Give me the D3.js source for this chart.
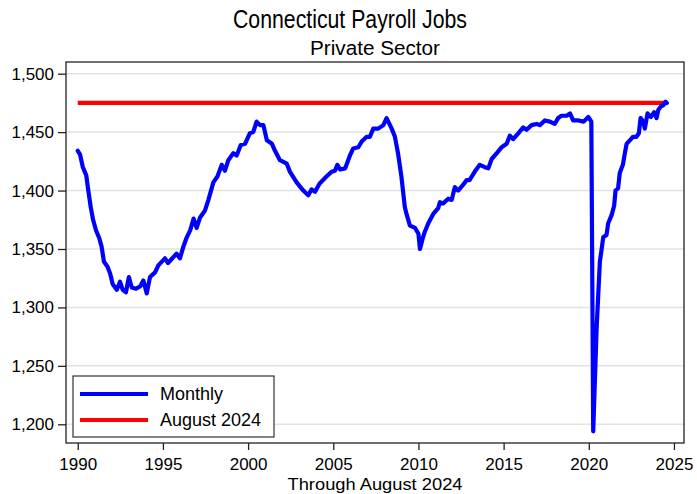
<!DOCTYPE html>
<html>
<head>
<meta charset="utf-8">
<script src="https://cdn.jsdelivr.net/npm/d3@7"></script>
<style>
  body { margin: 0; background: #fff; }
  svg text { font-family: "Liberation Sans", Arial, sans-serif; fill: #000; }
</style>
</head>
<body>
<div id="chart"></div>
<script>
// Connecticut private sector payroll jobs (thousands)
const years = [
  1990.00, 1990.13, 1990.30, 1990.50, 1990.60, 1990.76, 1990.90, 1991.07, 1991.27, 1991.40,
  1991.54, 1991.74, 1991.90, 1992.05, 1992.29, 1992.48, 1992.64, 1992.83, 1993.00, 1993.17,
  1993.42, 1993.66, 1993.85, 1994.05, 1994.24, 1994.54, 1994.73, 1995.12, 1995.30, 1995.80,
  1996.00, 1996.20, 1996.40, 1996.60, 1996.80, 1996.98, 1997.18, 1997.47, 1997.67, 1997.96,
  1998.20, 1998.45, 1998.64, 1998.84, 1999.13, 1999.33, 1999.57, 1999.82, 2000.10, 2000.30,
  2000.50, 2000.70, 2000.90, 2001.10, 2001.40, 2001.58, 2001.87, 2002.27, 2002.46, 2002.85,
  2003.24, 2003.53, 2003.73, 2003.93, 2004.20, 2004.60, 2004.90, 2005.10, 2005.24, 2005.40,
  2005.70, 2005.98, 2006.17, 2006.47, 2006.67, 2006.96, 2007.15, 2007.35, 2007.64, 2007.94,
  2008.13, 2008.43, 2008.62, 2008.80, 2009.00, 2009.20, 2009.30, 2009.50, 2009.80, 2010.00,
  2010.09, 2010.25, 2010.38, 2010.58, 2010.87, 2011.16, 2011.26, 2011.45, 2011.75, 2011.95,
  2012.14, 2012.33, 2012.63, 2012.83, 2013.00, 2013.30, 2013.60, 2013.90, 2014.10, 2014.30,
  2014.60, 2014.88, 2015.18, 2015.37, 2015.56, 2015.86, 2016.15, 2016.35, 2016.64, 2016.94,
  2017.13, 2017.42, 2017.72, 2018.00, 2018.20, 2018.40, 2018.70, 2018.90, 2019.08, 2019.40,
  2019.70, 2019.97, 2020.15, 2020.26, 2020.46, 2020.65, 2020.85, 2021.04, 2021.14, 2021.34,
  2021.49, 2021.57, 2021.72, 2021.82, 2022.00, 2022.12, 2022.22, 2022.41, 2022.60, 2022.80,
  2022.94, 2023.04, 2023.19, 2023.29, 2023.45, 2023.65, 2023.84, 2023.98, 2024.08, 2024.23,
  2024.37, 2024.51, 2024.58
];
const jobs = [
  1434, 1431, 1420, 1413, 1402, 1386, 1375, 1366, 1359, 1352,
  1339, 1335, 1329, 1320, 1315, 1322, 1315, 1313, 1326, 1317,
  1316, 1318, 1323, 1312, 1326, 1330, 1336, 1342, 1338, 1346,
  1342, 1352, 1360, 1366, 1376, 1368, 1377, 1383, 1392, 1407,
  1412, 1422, 1417, 1426, 1432, 1430, 1439, 1440, 1449, 1450,
  1459, 1456, 1456, 1443, 1440, 1434, 1426, 1423, 1416, 1407,
  1400, 1396, 1401, 1399, 1406, 1412, 1416, 1417, 1422, 1418,
  1419, 1430, 1436, 1437, 1442, 1446, 1446, 1453, 1453, 1456,
  1462, 1453, 1446, 1432, 1412, 1386, 1380, 1370, 1368, 1363,
  1350, 1359, 1365, 1372, 1380, 1385, 1390, 1389, 1393, 1392,
  1403, 1400, 1405, 1409, 1409, 1416, 1422, 1420, 1419, 1427,
  1432, 1437, 1440, 1447, 1444, 1449, 1454, 1452, 1456, 1457,
  1456, 1460, 1459, 1457, 1462, 1464, 1464, 1466, 1460, 1460,
  1459, 1463, 1459, 1194, 1282, 1339, 1360, 1362, 1372, 1379,
  1387, 1400, 1402, 1415, 1422, 1432, 1440, 1443, 1446, 1446,
  1449, 1462, 1459, 1453, 1466, 1463, 1467, 1462, 1469, 1472,
  1473, 1476, 1475
];
const latestValue = 1475;            // August 2024 reference level
const refSpan = [1990.0, 2024.58];
const xTicks = [1990, 1995, 2000, 2005, 2010, 2015, 2020, 2025];
const yTicks = [1200, 1250, 1300, 1350, 1400, 1450, 1500];
const legendLabels = ["Monthly", "August 2024"];
const legendColors = ["#0000ff", "#ff0000"];

const W = 697, H = 494;
const margin = { top: 62, right: 13, bottom: 51, left: 66 };
const width = W - margin.left - margin.right;
const height = H - margin.top - margin.bottom;

const svg = d3.select("#chart").append("svg")
  .attr("width", W)
  .attr("height", H);

const g = svg.append("g")
  .attr("transform", `translate(${margin.left},${margin.top})`);

const x = d3.scaleLinear().domain([1989.31, 2025.59]).range([0, width]);
const y = d3.scaleLinear().domain([1184, 1510]).range([height, 0]);

// gridlines
g.selectAll("line.grid")
  .data(yTicks)
  .enter().append("line")
  .attr("class", "grid")
  .attr("x1", 0).attr("x2", width)
  .attr("y1", d => y(d)).attr("y2", d => y(d))
  .style("stroke", "#e3e3e3")
  .style("stroke-width", 1.5);

// axes
const yAxis = g.append("g")
  .call(d3.axisLeft(y).tickValues(yTicks).tickSize(8).tickPadding(4).tickFormat(d3.format(",")));
const xAxis = g.append("g")
  .attr("transform", `translate(0,${height})`)
  .call(d3.axisBottom(x).tickValues(xTicks).tickSize(7).tickPadding(8).tickFormat(d3.format("d")));

[yAxis, xAxis].forEach(a => {
  a.select(".domain").remove();
  a.selectAll(".tick line").style("stroke", "#222").style("stroke-width", 1.3);
  a.selectAll(".tick text").style("font-size", "17px").style("font-family", "Liberation Sans, Arial, sans-serif").style("fill", "#000");
});

// plot frame
g.append("rect")
  .attr("x", 0).attr("y", 0)
  .attr("width", width).attr("height", height)
  .style("fill", "none")
  .style("stroke", "#222")
  .style("stroke-width", 1.3);

// reference line: August 2024 level
g.append("line")
  .attr("x1", x(refSpan[0])).attr("x2", x(refSpan[1]))
  .attr("y1", y(latestValue)).attr("y2", y(latestValue))
  .style("stroke", legendColors[1])
  .style("stroke-width", 4.2);

// monthly series
const series = years.map((t, i) => ({ t, v: jobs[i] }));
g.append("path")
  .datum(series)
  .attr("d", d3.line().x(d => x(d.t)).y(d => y(d.v)))
  .style("fill", "none")
  .style("stroke", legendColors[0])
  .style("stroke-width", 4.2)
  .style("stroke-linejoin", "round")
  .style("stroke-linecap", "round");

// legend
const legend = g.append("g").attr("transform", `translate(${7},${314})`);
legend.append("rect")
  .attr("width", 201).attr("height", 61)
  .style("fill", "#fff")
  .style("stroke", "#333")
  .style("stroke-width", 1.2);
legendLabels.forEach((lab, i) => {
  const row = legend.append("g").attr("transform", `translate(0,${18 + i * 26})`);
  row.append("line")
    .attr("x1", 7).attr("x2", 75)
    .style("stroke", legendColors[i])
    .style("stroke-width", 4.2);
  row.append("text")
    .attr("x", 87).attr("dy", "0.35em")
    .style("font-size", "18px")
    .text(lab);
});

// titles
svg.append("text")
  .attr("x", 350).attr("y", 28)
  .attr("text-anchor", "middle")
  .attr("textLength", 234)
  .attr("lengthAdjust", "spacingAndGlyphs")
  .style("font-size", "25px")
  .text("Connecticut Payroll Jobs");

svg.append("text")
  .attr("x", margin.left + width / 2).attr("y", 55)
  .attr("text-anchor", "middle")
  .attr("textLength", 130)
  .attr("lengthAdjust", "spacingAndGlyphs")
  .style("font-size", "20px")
  .text("Private Sector");

svg.append("text")
  .attr("x", margin.left + width / 2).attr("y", 490)
  .attr("text-anchor", "middle")
  .attr("textLength", 175)
  .attr("lengthAdjust", "spacingAndGlyphs")
  .style("font-size", "17px")
  .text("Through August 2024");
</script>
</body>
</html>
